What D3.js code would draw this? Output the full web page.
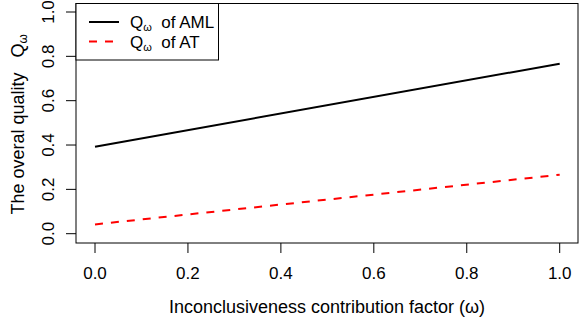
<!DOCTYPE html>
<html>
<head>
<meta charset="utf-8">
<script src="https://cdn.jsdelivr.net/npm/d3@7"></script>
<style>
  body { margin: 0; background: #fff; }
  svg text { font-family: "Liberation Sans", Arial, sans-serif; font-size: 17px; fill: #000; }
  svg text.axis-title { font-size: 18px; }
</style>
</head>
<body>
<div id="chart"></div>
<script>
// inconclusiveness contribution factor (omega)
const omega = [0, 1];
// overall quality Q_omega
const qAML = [0.392, 0.767];
const qAT = [0.042, 0.266];
const xTicks = [0, 0.2, 0.4, 0.6, 0.8, 1.0];
const yTicks = [0, 0.2, 0.4, 0.6, 0.8, 1.0];
const seriesNames = ["AML", "AT"];

const config = {
  width: 581,
  height: 319,
  box: { left: 76, right: 578, top: 3.5, bottom: 243 },
  tickLength: 10,
};

const svg = d3.select('#chart').append('svg')
  .attr('width', config.width)
  .attr('height', config.height);

const xScale = d3.scaleLinear().domain([0, 1]).range([95, 559.7]);
const yScale = d3.scaleLinear().domain([0, 1]).range([233.7, 12]);

// x axis
const xAxis = svg.append('g')
  .attr('transform', `translate(0, ${config.box.bottom})`);
xAxis.selectAll('line.tick')
  .data(xTicks)
  .enter().append('line')
  .attr('x1', d => xScale(d)).attr('x2', d => xScale(d))
  .attr('y1', 0).attr('y2', config.tickLength)
  .attr('stroke', '#000');
xAxis.selectAll('text')
  .data(xTicks)
  .enter().append('text')
  .attr('x', d => xScale(d))
  .attr('y', 35.5)
  .attr('text-anchor', 'middle')
  .text(d => d.toFixed(1));

// y axis
const yAxis = svg.append('g')
  .attr('transform', `translate(${config.box.left}, 0)`);
yAxis.selectAll('line.tick')
  .data(yTicks)
  .enter().append('line')
  .attr('x1', 0).attr('x2', -config.tickLength)
  .attr('y1', d => yScale(d)).attr('y2', d => yScale(d))
  .attr('stroke', '#000');
yAxis.selectAll('text')
  .data(yTicks)
  .enter().append('text')
  .attr('transform', d => `translate(-22.5, ${yScale(d)}) rotate(-90)`)
  .attr('text-anchor', 'middle')
  .text(d => d.toFixed(1));

// plot lines
const line = d3.line()
  .x(d => xScale(d[0]))
  .y(d => yScale(d[1]));

svg.append('path')
  .datum(d3.zip(omega, qAML))
  .attr('d', line)
  .attr('fill', 'none')
  .attr('stroke', '#000')
  .attr('stroke-width', 2);

svg.append('path')
  .datum(d3.zip(omega, qAT))
  .attr('d', line)
  .attr('fill', 'none')
  .attr('stroke', '#ff0000')
  .attr('stroke-width', 2)
  .attr('stroke-dasharray', '8,8');

// box
svg.append('rect')
  .attr('x', config.box.left)
  .attr('y', config.box.top)
  .attr('width', config.box.right - config.box.left)
  .attr('height', config.box.bottom - config.box.top)
  .attr('fill', 'none')
  .attr('stroke', '#000');

// axis titles
svg.append('text')
  .attr('class', 'axis-title')
  .attr('x', (config.box.left + config.box.right) / 2)
  .attr('y', 313)
  .attr('text-anchor', 'middle')
  .text('Inconclusiveness contribution factor (ω)');

const yTitle = svg.append('text')
  .attr('class', 'axis-title')
  .attr('transform', `translate(24, ${(config.box.top + config.box.bottom) / 2 + 1}) rotate(-90)`)
  .attr('text-anchor', 'middle')
  .attr('xml:space', 'preserve');
yTitle.append('tspan').text('The overal quality   Q');
yTitle.append('tspan').attr('font-size', '12px').attr('dy', 3).text('ω');

// legend
const legend = svg.append('g');
legend.append('rect')
  .attr('x', config.box.left)
  .attr('y', config.box.top)
  .attr('width', 142.5)
  .attr('height', 56.5)
  .attr('fill', '#fff')
  .attr('stroke', '#000');

const legendItems = [
  { name: seriesNames[0], color: '#000', dash: null },
  { name: seriesNames[1], color: '#ff0000', dash: '8,8' },
];
legendItems.forEach((item, i) => {
  const y = 22 + i * 19.5;
  legend.append('line')
    .attr('x1', 89).attr('x2', 119)
    .attr('y1', y).attr('y2', y)
    .attr('stroke', item.color)
    .attr('stroke-width', 2)
    .attr('stroke-dasharray', item.dash);
  const t = legend.append('text')
    .attr('x', 130)
    .attr('y', y + 6.3)
    .attr('xml:space', 'preserve');
  t.append('tspan').text('Q');
  t.append('tspan').attr('font-size', '11px').attr('dy', 3).text('ω');
  t.append('tspan').attr('dy', -3).text('  of ' + item.name);
});
</script>
</body>
</html>
